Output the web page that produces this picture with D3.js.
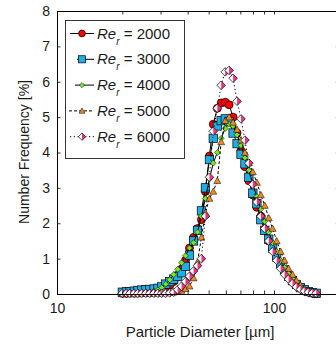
<!DOCTYPE html>
<html>
<head>
<meta charset="utf-8">
<script src="https://cdn.jsdelivr.net/npm/d3@7"></script>
<style>
body { margin: 0; background: #fff; }
text { font-family: Arial, "Liberation Sans", sans-serif; fill: #1a1a1a; }
</style>
</head>
<body>
<div id="vis"></div>
<script>
// particle diameter bins (um), shared by all series
var diameters = [20.0, 20.9, 21.7, 22.7, 23.6, 24.6, 25.7, 26.8, 28.0, 29.2,
  30.4, 31.7, 33.1, 34.5, 36.0, 37.5, 39.1, 40.8, 42.6, 44.4,
  46.3, 48.3, 50.4, 52.5, 54.8, 57.1, 59.6, 62.1, 64.8, 67.6,
  70.5, 73.5, 76.6, 79.9, 83.4, 87.0, 90.7, 94.6, 98.6, 102.9,
  107.3, 111.9, 116.7, 121.7, 126.9, 132.4, 138.1, 144.0, 150.2, 156.6];

// number frequency [%]
var re2000 = [0.02, 0.02, 0.03, 0.03, 0.04, 0.05, 0.06, 0.07, 0.08, 0.10,
  0.13, 0.18, 0.25, 0.35, 0.50, 0.70, 0.95, 1.30, 1.60, 1.85,
  2.10, 2.90, 3.90, 4.80, 5.25, 5.40, 5.42, 5.35, 5.00, 4.55,
  4.05, 3.60, 3.20, 2.80, 2.45, 2.20, 1.80, 1.50, 1.25, 1.00,
  0.80, 0.62, 0.47, 0.34, 0.24, 0.16, 0.10, 0.06, 0.03, 0.01];
var re3000 = [0.05, 0.06, 0.07, 0.08, 0.10, 0.11, 0.12, 0.13, 0.14, 0.16,
  0.20, 0.28, 0.35, 0.42, 0.50, 0.60, 0.78, 1.10, 1.50, 1.80,
  2.35, 3.00, 3.80, 4.40, 4.75, 4.90, 4.95, 4.88, 4.55, 4.25,
  3.95, 3.68, 3.30, 2.85, 2.55, 2.10, 1.80, 1.55, 1.30, 1.05,
  0.85, 0.68, 0.50, 0.38, 0.27, 0.18, 0.12, 0.07, 0.04, 0.02];
var re4000 = [0.00, 0.01, 0.01, 0.02, 0.02, 0.03, 0.04, 0.06, 0.08, 0.12,
  0.18, 0.28, 0.40, 0.55, 0.70, 0.88, 1.08, 1.30, 1.45, 1.75,
  2.20, 2.70, 3.25, 3.70, 4.00, 4.40, 4.68, 4.80, 4.75, 4.50,
  4.20, 3.85, 3.50, 3.10, 2.75, 2.40, 2.05, 1.75, 1.45, 1.20,
  0.95, 0.75, 0.58, 0.43, 0.31, 0.21, 0.13, 0.08, 0.04, 0.02];
var re5000 = [0.00, 0.00, 0.00, 0.00, 0.00, 0.01, 0.01, 0.01, 0.02, 0.02,
  0.03, 0.03, 0.04, 0.05, 0.07, 0.10, 0.15, 0.22, 0.45, 0.90,
  1.60, 2.30, 2.70, 2.90, 3.20, 4.30, 4.90, 5.00, 4.85, 4.65,
  4.35, 4.00, 3.70, 3.45, 3.15, 2.80, 2.50, 2.15, 1.85, 1.50,
  1.20, 0.95, 0.72, 0.55, 0.38, 0.25, 0.15, 0.08, 0.04, 0.02];
var re6000 = [0.02, 0.02, 0.02, 0.02, 0.02, 0.02, 0.02, 0.02, 0.02, 0.02,
  0.02, 0.02, 0.03, 0.05, 0.12, 0.22, 0.35, 0.50, 0.65, 0.80,
  1.00, 2.20, 3.30, 4.60, 5.25, 5.90, 6.28, 6.32, 6.10, 5.45,
  4.95, 4.35, 3.70, 3.10, 2.60, 2.20, 1.85, 1.50, 1.20, 0.95,
  0.72, 0.55, 0.42, 0.30, 0.20, 0.13, 0.08, 0.05, 0.03, 0.02];

var seriesNames = ["2000", "3000", "4000", "5000", "6000"];
var yTicks = [0, 1, 2, 3, 4, 5, 6, 7, 8];
var xTicks = [10, 20, 30, 40, 50, 60, 70, 80, 90, 100, 200];
var xLabeled = [10, 100];

var w = 336;
var h = 347;

var svg = d3.select("#vis")
  .append("svg")
  .attr("width", w)
  .attr("height", h);

// log x scale, right edge of the box is just outside the window
var x = d3.scaleLog()
  .domain([10, 200])
  .range([57, 339.3]);

var y = d3.scaleLinear()
  .domain([0, 8])
  .range([294, 11]);

var styles = [
  {shape: "circle", fill: "#ff0000", dash: null, x1: 70},
  {shape: "square", fill: "#1eaee6", dash: null, x1: 77},
  {shape: "diamond", fill: "#77e81c", dash: null, x1: 75},
  {shape: "triangle", fill: "#ee8a22", dash: "3,2", x1: 69},
  {shape: "halfdiamond", fill: "#f2327e", dash: "1.2,2.6", x1: 70}
];

var allValues = [re2000, re3000, re4000, re5000, re6000];

function drawMarker(g, st, scale) {
  var k = scale || 1;
  if (st.shape == "circle") {
    g.append("circle").attr("r", 4 * k)
      .attr("fill", st.fill).attr("stroke", "#000").attr("stroke-width", 0.7);
  } else if (st.shape == "square") {
    var s = 4.2 * k;
    g.append("rect").attr("x", -s).attr("y", -s).attr("width", 2 * s).attr("height", 2 * s)
      .attr("fill", st.fill).attr("stroke", "#000").attr("stroke-width", 0.7);
  } else if (st.shape == "diamond") {
    var s = 3 * k;
    g.append("path").attr("d", `M0,${-s}L${s},0L0,${s}L${-s},0Z`)
      .attr("fill", st.fill).attr("stroke", "#000").attr("stroke-width", 0.5);
  } else if (st.shape == "triangle") {
    var s = 3.5 * k;
    g.append("path").attr("d", `M0,${-s}L${s},${s * 0.8}L${-s},${s * 0.8}Z`)
      .attr("fill", st.fill).attr("stroke", "#000").attr("stroke-width", 0.5);
  } else {
    var s = 4.3 * k;
    g.append("path").attr("d", `M0,${-s}L${s},0L0,${s}L${-s},0Z`)
      .attr("fill", "#fff");
    g.append("path").attr("d", `M0,${-s}L${s},0L0,${s}Z`)
      .attr("fill", st.fill);
    g.append("path").attr("d", `M0,${-s}L${s},0L0,${s}L${-s},0Z`)
      .attr("fill", "none").attr("stroke", "#000").attr("stroke-width", 0.7);
  }
}

var main = svg.append("g");

// series: line then markers
allValues.forEach(function (vals, i) {
  var pts = diameters.map((d, j) => ({d: d, v: vals[j]}));
  var st = styles[i];
  var line = d3.line().x(p => x(p.d)).y(p => y(p.v));
  main.append("path")
    .datum(pts)
    .attr("d", line)
    .attr("fill", "none")
    .attr("stroke", "#000")
    .attr("stroke-width", 1)
    .attr("stroke-dasharray", st.dash);
  main.append("g")
    .selectAll("g")
    .data(pts)
    .enter()
    .append("g")
    .attr("transform", p => `translate(${x(p.d)},${y(p.v)})`)
    .each(function () { drawMarker(d3.select(this), st); });
});

// axes, ticks pointing inward
function styleAxis(g) {
  g.select(".domain").attr("stroke", "#000").attr("stroke-width", 1);
  g.selectAll(".tick line").attr("stroke", "#000").attr("stroke-width", 0.8);
  g.selectAll("text").attr("font-size", 14).attr("fill", "#1a1a1a")
    .attr("font-family", "Arial, 'Liberation Sans', sans-serif");
}

var fmt = d => xLabeled.indexOf(d) >= 0 ? d : "";

svg.append("g")
  .attr("transform", `translate(0,${y(0)})`)
  .call(d3.axisBottom(x).tickValues(xTicks).tickFormat(fmt).tickSizeInner(-3.5).tickSizeOuter(0).tickPadding(9))
  .call(styleAxis);

svg.append("g")
  .attr("transform", `translate(0,${y(8)})`)
  .call(d3.axisTop(x).tickValues(xTicks).tickFormat("").tickSizeInner(-3.5).tickSizeOuter(0))
  .call(styleAxis);

svg.append("g")
  .attr("transform", `translate(${x(10)},0)`)
  .call(d3.axisLeft(y).tickValues(yTicks).tickSizeInner(-3.5).tickSizeOuter(0).tickPadding(7))
  .call(styleAxis);

svg.append("g")
  .attr("transform", `translate(${x(200)},0)`)
  .call(d3.axisRight(y).tickValues(yTicks).tickFormat("").tickSizeInner(-3.5).tickSizeOuter(0))
  .call(styleAxis);

// axis titles
svg.append("text")
  .attr("x", 200)
  .attr("y", 337)
  .attr("text-anchor", "middle")
  .attr("font-size", 15)
  .text("Particle Diameter [µm]");

svg.append("text")
  .attr("transform", "translate(29,152) rotate(-90)")
  .attr("text-anchor", "middle")
  .attr("font-size", 14)
  .text("Number Frequency [%]");

// legend
var legend = svg.append("g");
legend.append("rect")
  .attr("x", 65.5).attr("y", 20.5)
  .attr("width", 119).attr("height", 138)
  .attr("fill", "#fff").attr("stroke", "#222").attr("stroke-width", 0.9);

seriesNames.forEach(function (name, i) {
  var st = styles[i];
  var cy = 33.5 + i * 25.8;
  legend.append("line")
    .attr("x1", st.x1).attr("x2", 94)
    .attr("y1", cy).attr("y2", cy)
    .attr("stroke", "#000").attr("stroke-width", 1)
    .attr("stroke-dasharray", st.dash);
  var mg = legend.append("g").attr("transform", `translate(82,${cy})`);
  drawMarker(mg, st, 0.85);
  var t = legend.append("text")
    .attr("x", 97)
    .attr("y", cy + 5)
    .attr("font-size", 15);
  t.append("tspan").attr("font-style", "italic").text("Re");
  t.append("tspan").attr("font-style", "italic").attr("font-size", 10).attr("dy", 6).text("r");
  t.append("tspan").attr("dy", -6).text(" = " + name);
});
</script>
</body>
</html>
